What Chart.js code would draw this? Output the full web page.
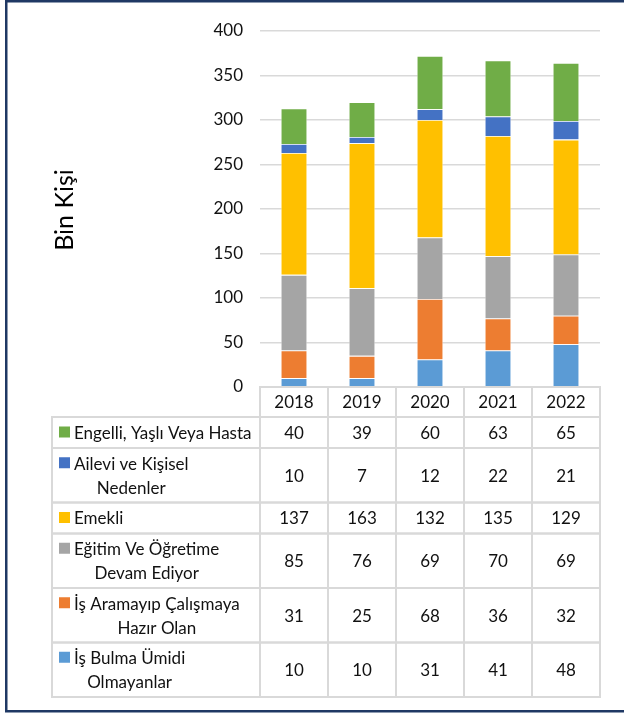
<!DOCTYPE html>
<html>
<head>
<meta charset="utf-8">
<script src="https://cdn.jsdelivr.net/npm/chart.js@4.4.1/dist/chart.umd.min.js"></script>
<style>
  html, body { margin: 0; padding: 0; background: #fff; }
</style>
</head>
<body>
<canvas id="reasonChart" width="624" height="716"></canvas>
<script>
// data (bottom of stack first)
const years = ['2018', '2019', '2020', '2021', '2022'];
const seriesNames = [
  'İş Bulma Ümidi\nOlmayanlar',
  'İş Aramayıp Çalışmaya\nHazır Olan',
  'Eğitim Ve Öğretime\nDevam Ediyor',
  'Emekli',
  'Ailevi ve Kişisel\nNedenler',
  'Engelli, Yaşlı Veya Hasta'
];
const isBulmaUmidi = [10, 10, 31, 41, 48];
const isAramayip = [31, 25, 68, 36, 32];
const egitim = [85, 76, 69, 70, 69];
const emekli = [137, 163, 132, 135, 129];
const ailevi = [10, 7, 12, 22, 21];
const engelli = [40, 39, 60, 63, 65];
const seriesColors = ['#5B9BD5', '#ED7D31', '#A5A5A5', '#FFC000', '#4472C4', '#70AD47'];
const yMin = 0, yMax = 400, yStep = 50;
const yTitle = 'Bin Kişi';

const FONT = 'Lato, "Open Sans", sans-serif';
const allSeries = [isBulmaUmidi, isAramayip, egitim, emekli, ailevi, engelli];

// draws the frame, the y title and the data table under the plot
const tablePlugin = {
  id: 'dataTable',
  afterDraw(chart) {
    const ctx = chart.ctx;
    const x = chart.scales.x;
    const area = chart.chartArea;
    const half = (x.getPixelForValue(1) - x.getPixelForValue(0)) / 2;
    const colL = x.getPixelForValue(0) - half;
    const colR = x.getPixelForValue(years.length - 1) + half;
    const left = 52;
    const top = area.bottom;
    const headerH = 30;

    ctx.save();
    // outer frame
    ctx.strokeStyle = '#1F3864';
    ctx.lineWidth = 2.5;
    ctx.strokeRect(6.25, 1.25, 700, 710);

    // y title
    ctx.fillStyle = '#000';
    ctx.font = '25px ' + FONT;
    ctx.textAlign = 'center';
    ctx.textBaseline = 'middle';
    ctx.translate(65, 210);
    ctx.rotate(-Math.PI / 2);
    ctx.fillText(yTitle, 0, 0);
    ctx.setTransform(1, 0, 0, 1, 0, 0);

    ctx.strokeStyle = '#D9D9D9';
    ctx.lineWidth = 2;
    ctx.font = '17px ' + FONT;
    ctx.fillStyle = '#111';

    // header row
    ctx.strokeRect(colL, top, colR - colL, headerH);
    years.forEach((yr, i) => {
      const cx = x.getPixelForValue(i);
      if (i > 0) {
        ctx.beginPath();
        ctx.moveTo(cx - half, top);
        ctx.lineTo(cx - half, top + headerH);
        ctx.stroke();
      }
      ctx.fillText(yr, cx, top + headerH / 2 + 1);
    });

    let yy = top + headerH;
    const rows = chart.data.datasets.slice().reverse();
    rows.forEach(ds => {
      const lines = ds.label.split('\n');
      const h = lines.length > 1 ? 54.5 : 31;
      ctx.strokeRect(left, yy, colR - left, h);
      ctx.beginPath();
      for (let i = 0; i < years.length; i++) {
        const lx = x.getPixelForValue(i) - half;
        ctx.moveTo(lx, yy);
        ctx.lineTo(lx, yy + h);
      }
      ctx.stroke();

      const ty = lines.length > 1 ? yy + h / 2 - 12 : yy + h / 2;
      ctx.fillStyle = ds.backgroundColor;
      ctx.fillRect(59, ty - 6, 11, 11);
      ctx.fillStyle = '#111';
      ctx.textAlign = 'left';
      ctx.fillText(lines[0], 74, ty + 1);
      if (lines[1]) {
        const w = ctx.measureText(lines[0]).width;
        ctx.textAlign = 'center';
        ctx.fillText(lines[1], 74 + w / 2, ty + 25);
      }
      ctx.textAlign = 'center';
      ds.data.forEach((v, i) => {
        ctx.fillText(String(v), x.getPixelForValue(i), yy + h / 2 + 1);
      });
      yy += h;
    });
    ctx.restore();
  }
};

const ctx = document.getElementById('reasonChart').getContext('2d');
new Chart(ctx, {
  type: 'bar',
  data: {
    labels: years,
    datasets: seriesNames.map((name, i) => ({
      label: name,
      data: allSeries[i],
      backgroundColor: seriesColors[i],
      borderColor: 'rgba(255,255,255,0.7)',
      borderWidth: 0.8,
      barPercentage: 0.39,
      categoryPercentage: 1,
    })),
  },
  options: {
    responsive: false,
    animation: false,
    devicePixelRatio: 1,
    layout: { padding: { top: 31, bottom: 329, left: 0, right: 24 } },
    plugins: {
      legend: { display: false },
      tooltip: { enabled: false },
    },
    scales: {
      x: {
        stacked: true,
        display: false,
      },
      y: {
        stacked: true,
        min: yMin,
        max: yMax,
        afterFit: (scale) => { scale.width = 260; },
        ticks: {
          stepSize: yStep,
          padding: 17,
          color: '#111',
          font: { family: FONT, size: 17 },
        },
        grid: { color: '#D9D9D9', lineWidth: 1.5, drawTicks: false },
        border: { display: false },
      },
    },
  },
  plugins: [tablePlugin],
});
</script>
</body>
</html>
